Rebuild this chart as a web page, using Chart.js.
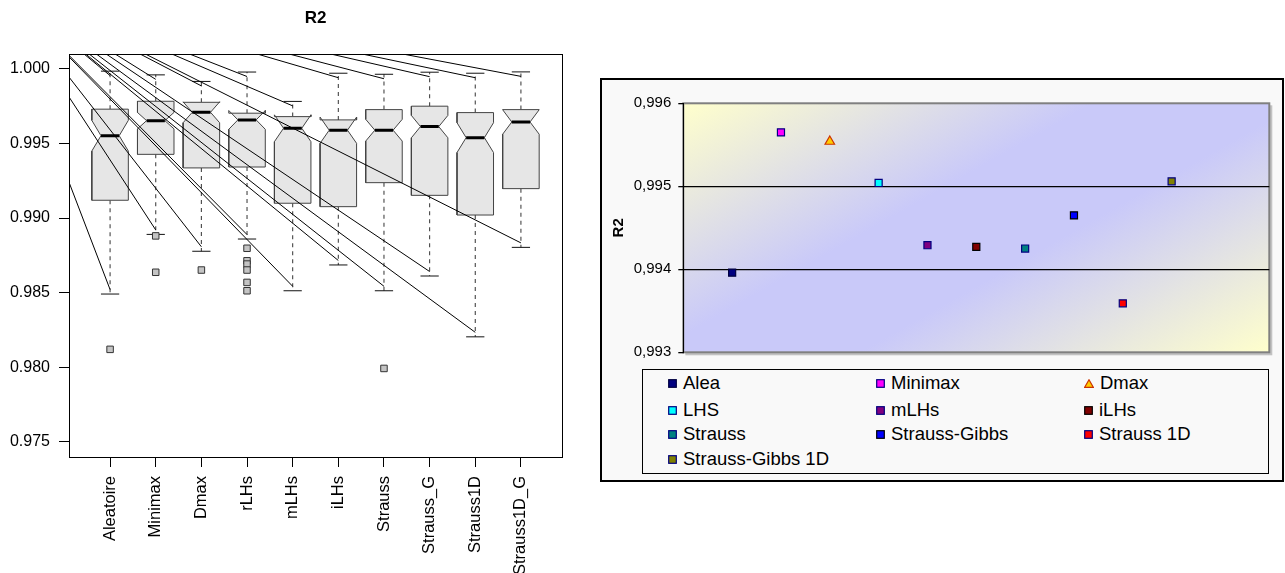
<!DOCTYPE html>
<html><head><meta charset="utf-8">
<script src="https://cdn.jsdelivr.net/npm/chart.js@4.4.1/dist/chart.umd.min.js"></script>
<style>
html,body{margin:0;padding:0;background:#fff;width:1285px;height:573px;overflow:hidden;font-family:"Liberation Sans",Arial,sans-serif}
#leftWrap{position:absolute;left:0;top:0;width:580px;height:573px}
#rightFrame{position:absolute;left:600px;top:78px;width:684px;height:404px;box-sizing:border-box;border:2px solid #000;background:#f9f9f9}
#rightWrap{position:absolute;left:0;top:0;width:680px;height:400px}
#legend{position:absolute;left:40px;top:289px;width:627px;height:105px;box-sizing:border-box;border:1px solid #000;background:#f9f9f9}
.li{position:absolute;height:22px;display:flex;align-items:center;font-size:18.5px;color:#000;white-space:nowrap}
.li svg{margin-right:6px;flex:none}
</style>
</head><body>
<div id="leftWrap"><canvas id="left" width="580" height="573"></canvas></div>
<div id="rightFrame">
  <div id="rightWrap"><canvas id="right" width="680" height="400"></canvas></div>
  <div id="legend"></div>
</div>
<script>
// ---------- LEFT CHART DATA (notched boxplot) ----------
const categories   = ['Aleatoire','Minimax','Dmax','rLHs','mLHs','iLHs','Strauss','Strauss_G','Strauss1D','Strauss1D_G'];
const lowerWhisker = [0.98490,0.98890,0.98777,0.98859,0.98512,0.98685,0.98512,0.98611,0.98203,0.98803];
const lowerHinge   = [0.99119,0.99427,0.99336,0.99342,0.99099,0.99076,0.99237,0.99152,0.99020,0.99197];
const medians      = [0.99552,0.99653,0.99709,0.99658,0.99602,0.99589,0.99589,0.99613,0.99539,0.99644];
const upperHinge   = [0.99730,0.99783,0.99776,0.99703,0.99680,0.99658,0.99727,0.99750,0.99707,0.99727];
const upperWhisker = [0.99985,0.99960,0.99916,0.99979,0.99782,0.99971,0.99964,0.99978,0.99971,0.99980];
const notchHalf    = [0.00103,0.00055,0.00070,0.00063,0.00090,0.00088,0.00073,0.00075,0.00100,0.00082];
const outlierCat   = [1,2,2,3,4,4,4,4,4,4,7];
const outlierVal   = [0.98119,0.98880,0.98636,0.98651,0.98797,0.98713,0.98691,0.98651,0.98568,0.98512,0.97991];
const leftYTicks   = [0.975,0.980,0.985,0.990,0.995,1.000];
// origin of the leader lines (data units) and inset toward the box
const leaderOrigin = {x:-1.63, y:1.00624};
const leaderInset  = 0.0003;

// ---------- RIGHT CHART DATA ----------
const seriesNames = ['Alea','Minimax','Dmax','LHS','mLHs','iLHs','Strauss','Strauss-Gibbs','Strauss 1D','Strauss-Gibbs 1D'];
const seriesX     = [1,2,3,4,5,6,7,8,9,10];
const seriesR2    = [0.99396,0.99565,0.99554,0.99504,0.99429,0.99427,0.99425,0.99465,0.99359,0.99506];
const rightYTicks = [0.993,0.994,0.995,0.996];

// styles
const markerFill   = ['#000080','#ff00ff','#ffcc00','#00ffff','#800080','#800000','#008080','#0000ff','#ff0000','#808000'];
const markerBorder = ['#000040','#000080','#cc3300','#000080','#000080','#000000','#000080','#000000','#000080','#000080'];
const markerShape  = ['rect','rect','triangle','rect','rect','rect','rect','rect','rect','rect'];

const FONT = '"Liberation Sans", Arial, sans-serif';
const GAP = {x:null, y:null};

// ---------- build left datasets ----------
const W = 0.4, NF = 0.5, CAPW = 0.2;
const leftDatasets = [];
const leaderPts = [];
categories.forEach((c,i)=>{
  leaderPts.push({...leaderOrigin},{x:i+1,y:lowerWhisker[i]+leaderInset},GAP);
  leaderPts.push({...leaderOrigin},{x:i+1,y:upperWhisker[i]-leaderInset},GAP);
});
leftDatasets.push({label:'leaders',data:leaderPts,showLine:true,borderColor:'#000',borderWidth:1,pointRadius:0,clip:0,order:0});

const medPts=[], capPts=[], whiskPts=[];
categories.forEach((c,i)=>{
  const x=i+1;
  medPts.push({x:x-W*NF,y:medians[i]},{x:x+W*NF,y:medians[i]},GAP);
  capPts.push({x:x-CAPW,y:upperWhisker[i]},{x:x+CAPW,y:upperWhisker[i]},GAP);
  capPts.push({x:x-CAPW,y:lowerWhisker[i]},{x:x+CAPW,y:lowerWhisker[i]},GAP);
  whiskPts.push({x:x,y:upperHinge[i]},{x:x,y:upperWhisker[i]},GAP);
  whiskPts.push({x:x,y:lowerHinge[i]},{x:x,y:lowerWhisker[i]},GAP);
});
leftDatasets.push({label:'medians',data:medPts,showLine:true,borderColor:'#000',borderWidth:3,borderCapStyle:'butt',pointRadius:0,order:1});
leftDatasets.push({label:'outliers',data:outlierVal.map((v,k)=>({x:outlierCat[k],y:v})),pointStyle:'rect',pointRadius:4.6,backgroundColor:'#c4c4c4',borderColor:'#333',borderWidth:1,order:2});
leftDatasets.push({label:'caps',data:capPts,showLine:true,borderColor:'#111',borderWidth:1,pointRadius:0,order:3});
categories.forEach((c,i)=>{
  const x=i+1, lo=medians[i]-notchHalf[i], hi=medians[i]+notchHalf[i];
  const poly=[
    {x:x-W,y:lowerHinge[i]},{x:x+W,y:lowerHinge[i]},{x:x+W,y:lo},{x:x+W*NF,y:medians[i]},{x:x+W,y:hi},
    {x:x+W,y:upperHinge[i]},{x:x-W,y:upperHinge[i]},{x:x-W,y:hi},{x:x-W*NF,y:medians[i]},{x:x-W,y:lo},
    {x:x-W,y:lowerHinge[i]}];
  leftDatasets.push({label:'box '+c,data:poly,showLine:true,fill:'shape',backgroundColor:'#e6e6e6',borderColor:'#444',borderWidth:1,pointRadius:0,order:4});
});
leftDatasets.push({label:'whiskers',data:whiskPts,showLine:true,borderColor:'#444',borderWidth:1.1,borderDash:[4,4],pointRadius:0,order:5});

const framePlugin = {
  id:'frame',
  afterDraw(chart){
    const a=chart.chartArea, c=chart.ctx;
    c.save(); c.strokeStyle='#000'; c.lineWidth=1;
    c.strokeRect(Math.round(a.left)+0.5,Math.round(a.top)+0.5,Math.round(a.right-a.left),Math.round(a.bottom-a.top));
    c.restore();
  }
};

new Chart(document.getElementById('left'),{
  type:'scatter',
  data:{datasets:leftDatasets},
  options:{
    responsive:false, animation:false, events:[],
    layout:{padding:{left:0,right:18,top:0,bottom:0}},
    plugins:{
      legend:{display:false}, tooltip:{enabled:false},
      title:{display:true,text:'R2',fullSize:false,color:'#000',font:{family:FONT,size:17,weight:'bold'},padding:{top:8.5,bottom:25.1}}
    },
    scales:{
      x:{type:'linear',min:0.1,max:10.9,
        afterBuildTicks:s=>{s.ticks=categories.map((c,i)=>({value:i+1}));},
        afterFit:s=>{s.height=116;},
        ticks:{autoSkip:false,minRotation:90,maxRotation:90,padding:9,color:'#000',font:{family:FONT,size:16.5},
          callback:v=>categories[Math.round(v)-1]},
        grid:{drawOnChartArea:false,drawTicks:true,tickLength:10,tickColor:'#000',color:'#000'},
        border:{display:true,color:'#000'}},
      y:{type:'linear',min:0.97397,max:1.001,
        afterBuildTicks:s=>{s.ticks=leftYTicks.map(v=>({value:v}));},
        afterFit:s=>{s.width=69;},
        ticks:{padding:9,color:'#000',font:{family:FONT,size:16},callback:v=>Number(v).toFixed(3)},
        grid:{drawOnChartArea:false,drawTicks:true,tickLength:10,tickColor:'#000',color:'#000'},
        border:{display:true,color:'#000'}}
    }
  },
  plugins:[framePlugin]
});

// ---------- right chart ----------
const bgPlugin = {
  id:'bg',
  beforeDraw(chart){
    const a=chart.chartArea, c=chart.ctx;
    const w=a.right-a.left, h=a.bottom-a.top, cx=(a.left+a.right)/2, cy=(a.top+a.bottom)/2;
    // gradient normal (iso-colour lines run from lower-left to upper-right)
    let nx=h, ny=0.75*w; const L=Math.hypot(nx,ny); nx/=L; ny/=L;
    const d=Math.abs(w/2*nx)+Math.abs(h/2*ny);
    const g=c.createLinearGradient(cx-nx*d,cy-ny*d,cx+nx*d,cy+ny*d);
    g.addColorStop(0,'#ffffcc'); g.addColorStop(0.4,'#c9c9f9'); g.addColorStop(0.6,'#c9c9f9'); g.addColorStop(1,'#ffffcc');
    c.save();
    c.fillStyle='rgba(0,0,0,0.22)';
    c.fillRect(a.left+2,a.top+2,w+1,h+1);
    c.fillStyle=g; c.fillRect(a.left,a.top,w,h);
    c.strokeStyle='#808080'; c.lineWidth=2;
    c.strokeRect(a.left,a.top,w,h);
    c.restore();
  }
};

new Chart(document.getElementById('right'),{
  type:'scatter',
  data:{datasets:seriesNames.map((n,i)=>({
    label:n,data:[{x:seriesX[i],y:seriesR2[i]}],
    pointStyle:markerShape[i],pointRadius:markerShape[i]==='triangle'?5.5:5,
    backgroundColor:markerFill[i],borderColor:markerBorder[i],borderWidth:1.2}))},
  options:{
    responsive:false, animation:false, events:[],
    layout:{padding:{left:0,right:12.7,top:23.3,bottom:127.7}},
    plugins:{legend:{display:false},tooltip:{enabled:false}},
    scales:{
      x:{type:'linear',min:0,max:12,display:false},
      y:{type:'linear',min:0.993,max:0.996,
        afterBuildTicks:s=>{s.ticks=rightYTicks.map(v=>({value:v}));},
        afterFit:s=>{s.width=81.3;},
        title:{display:true,text:'R2',color:'#000',font:{family:FONT,size:15,weight:'bold'},padding:{top:8,bottom:0}},
        ticks:{padding:7,color:'#000',font:{family:FONT,size:15},callback:v=>Number(v).toFixed(3).replace('.',',')},
        grid:{drawOnChartArea:true,drawTicks:true,tickLength:5,tickColor:'#000',lineWidth:1.3,
          color:ctx=>(ctx.index>0&&ctx.index<rightYTicks.length-1)?'#000':'rgba(0,0,0,0)'},
        border:{display:true,color:'#000',width:1}}
    }
  },
  plugins:[bgPlugin]
});

// ---------- HTML legend ----------
const legend=document.getElementById('legend');
const rowCenters=[13,40,64,89];
seriesNames.forEach((n,i)=>{
  const col=i%3,row=Math.floor(i/3);
  const d=document.createElement('div');
  d.className='li';
  d.style.left=(25+col*208)+'px';
  d.style.top=(rowCenters[row]-11)+'px';
  let svg;
  if(markerShape[i]==='triangle'){
    svg='<svg width="10" height="9" viewBox="0 0 10 9"><polygon points="5,0.8 9.3,8.3 0.7,8.3" fill="'+markerFill[i]+'" stroke="'+markerBorder[i]+'" stroke-width="1.2"/></svg>';
  } else {
    svg='<svg width="9" height="9" viewBox="0 0 9 9"><rect x="0.7" y="0.7" width="7.6" height="7.6" fill="'+markerFill[i]+'" stroke="'+markerBorder[i]+'" stroke-width="1.2"/></svg>';
  }
  d.innerHTML=svg+'<span>'+n+'</span>';
  legend.appendChild(d);
});
</script>
</body></html>
